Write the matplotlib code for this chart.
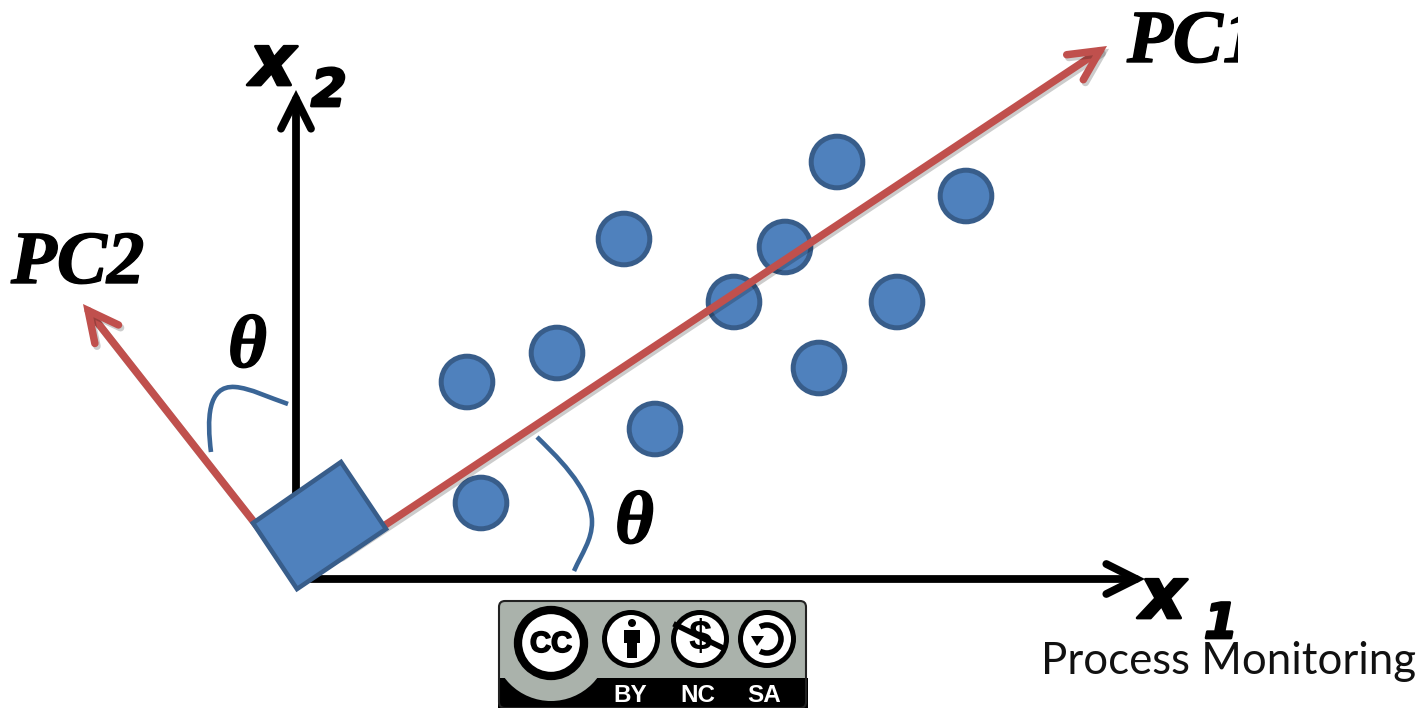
import matplotlib
matplotlib.use("Agg")
import matplotlib.pyplot as plt
import matplotlib.patheffects as pe
from matplotlib.patches import Arc, Circle, Polygon, FancyBboxPatch, PathPatch, Rectangle
from matplotlib.path import Path

# scatter points in pixels
point_x = [837, 966, 624, 785, 734, 897, 557, 467, 819, 655, 481]
point_y = [162, 196, 239, 247, 302, 302, 353, 382, 368, 429, 503]

# axes and principal components
x1_line = [(296, 579), (1145, 579)]
x2_line = [(296, 579), (296, 90)]
pc1_line = [(340, 555), (1107, 46)]
pc2_line = [(290, 568), (83, 304)]
square = [(253, 523), (341, 462), (386, 529), (297, 589)]

# angle arcs
arc1_pts = [(211, 452), (207, 420), (207, 385), (235, 387), (250, 388), (270, 398), (288, 404)]
arc2_pts = [(537, 437), (552, 452), (592, 488), (592, 522), (592, 540), (582, 553), (574, 571)]

blue = "#4f81bd"
blue_dark = "#385d8a"
red = "#c0504d"
arc_blue = "#3a6596"
cc_grey = "#aab2ab"

fig = plt.figure(figsize=(14.23, 7.08), dpi=100)
ax = fig.add_axes([0, 0, 1, 1])
ax.set_xlim(0, 1423)
ax.set_ylim(708, 0)
ax.axis("off")


def arrow(line, color, lw, z=2, shadow=False):
    an = ax.annotate("", xy=line[1], xytext=line[0], zorder=z,
                     arrowprops=dict(arrowstyle="->,head_length=0.9,head_width=0.45", color=color,
                                     lw=lw, shrinkA=0, shrinkB=0, capstyle="round",
                                     joinstyle="miter", mutation_scale=24))
    if shadow:
        an.arrow_patch.set_path_effects([pe.SimpleLineShadow(offset=(1.5, -2), alpha=0.2), pe.Normal()])


arrow(x1_line, "black", 5.6)
arrow(x2_line, "black", 5.6)
arrow(pc2_line, red, 5.4, shadow=True)

for pts in [arc1_pts, arc2_pts]:
    codes = [Path.MOVETO] + [Path.CURVE4] * 6
    ax.add_patch(PathPatch(Path(pts, codes), fc="none", ec=arc_blue, lw=3.3, zorder=2))

for x, y in zip(point_x, point_y):
    ax.add_patch(Circle((x, y), 25.8, fc=blue, ec=blue_dark, lw=3.6, zorder=3))

# PC1 runs over the two points it crosses
arrow(pc1_line, red, 5.4, z=4, shadow=True)
ax.add_patch(Polygon(square, closed=True, fc=blue, ec=blue_dark, lw=3.3, joinstyle="miter", zorder=5))

# labels
thick = [pe.withStroke(linewidth=1, foreground="black")]
math = dict(family="Liberation Serif", style="italic", weight="bold", color="black", path_effects=thick)
pc1 = ax.text(1127, 62, "PC1", fontsize=54, ha="left", va="baseline", **math)
pc1.set_clip_on(True)
pc1.set_clip_path(Rectangle((1100, 0), 138, 120, transform=ax.transData))
ax.text(11, 283, "PC2", fontsize=54, ha="left", va="baseline", **math)
ax.text(228, 367, "θ", fontsize=54, ha="left", va="baseline", **math)
ax.text(615, 543, "θ", fontsize=54, ha="left", va="baseline", **math)

heavy = dict(family="DejaVu Sans", style="oblique", weight="bold", color="black",
             path_effects=[pe.withStroke(linewidth=2, foreground="black")])
ax.text(250, 85, "x", fontsize=51, ha="left", va="baseline", **heavy)
ax.text(311, 106, "2", fontsize=37, ha="left", va="baseline", **heavy)
ax.text(1140, 618, "x", fontsize=51, ha="left", va="baseline", **heavy)
ax.text(1204, 638, "1", fontsize=35, ha="left", va="baseline", **heavy)

ax.text(1041, 674, "Process Monitoring", fontsize=31.5, family="Lato", ha="left", va="baseline", color="#111111")

# licence badge
badge = FancyBboxPatch((499, 601), 307, 107, boxstyle="round,pad=0,rounding_size=6",
                       fc=cc_grey, ec="none", zorder=2)
ax.add_patch(badge)
ax.add_patch(Rectangle((498, 678), 310, 30, fc="black", ec="none", zorder=3))
halo = Circle((551, 643), 58, fc=cc_grey, ec="none", zorder=3)
ax.add_patch(halo)
halo.set_clip_path(badge)
ax.add_patch(FancyBboxPatch((499, 601), 307, 107, boxstyle="round,pad=0,rounding_size=6",
                            fc="none", ec="#222222", lw=1.5, zorder=6))
ax.add_patch(Circle((551, 643), 33, fc="white", ec="black", lw=6, zorder=4))
ax.text(551, 644, "CC", fontsize=21, family="Liberation Sans", weight="bold", ha="center", va="center", zorder=5,
        path_effects=[pe.withStroke(linewidth=1.2, foreground="black")])
for cx in [631, 700, 767]:
    ax.add_patch(Circle((cx, 639), 26.5, fc="white", ec="black", lw=3.6, zorder=4))
# attribution figure
ax.add_patch(Circle((632, 623), 4, fc="black", ec="none", zorder=5))
ax.add_patch(Rectangle((624, 630), 16, 13, fc="black", ec="none", zorder=5))
ax.add_patch(Rectangle((627, 640), 10, 18, fc="black", ec="none", zorder=5))
# no-commercial sign
ax.text(700, 639, "$", fontsize=30, family="Liberation Sans", weight="bold", ha="center", va="center", zorder=5, parse_math=False)
ax.plot([676, 723], [625, 648], color="black", lw=4, zorder=6)
# share-alike sign
ax.add_patch(Arc((767, 639), 28, 28, theta1=-120, theta2=120, color="black", lw=4, zorder=5))
ax.add_patch(Polygon([(751, 636), (764, 636), (757, 646)], closed=True, fc="black", ec="none", zorder=5))
ax.text(630, 696, "BY", fontsize=17.5, family="Liberation Sans", weight="bold", color="white", ha="center", va="center", zorder=7)
ax.text(698, 696, "NC", fontsize=17.5, family="Liberation Sans", weight="bold", color="white", ha="center", va="center", zorder=7)
ax.text(764, 696, "SA", fontsize=17.5, family="Liberation Sans", weight="bold", color="white", ha="center", va="center", zorder=7)

fig.savefig("out.png", dpi=100)
